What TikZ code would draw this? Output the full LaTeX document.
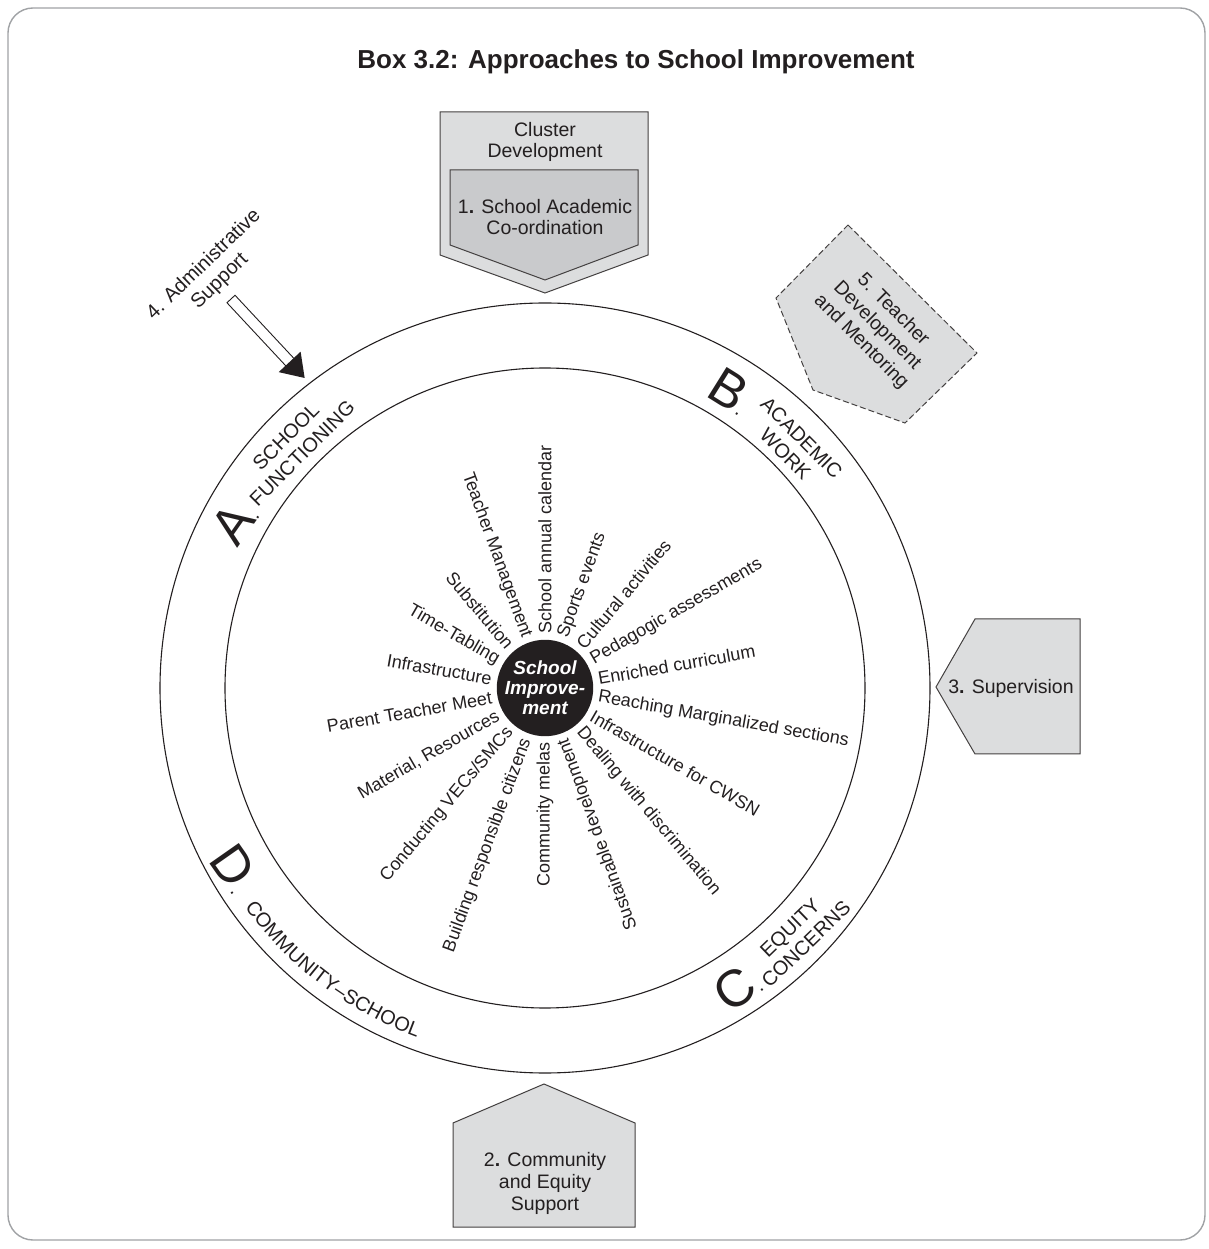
\documentclass[tikz,border=0pt]{standalone}
\usepackage{fontspec}
\setmainfont{Liberation Sans}
\usetikzlibrary{decorations.text}
\definecolor{boxgray}{HTML}{DCDDDE}
\definecolor{boxdark}{HTML}{C9CACC}
\definecolor{ink}{HTML}{231F20}
\definecolor{framegray}{HTML}{A0A2A5}
\begin{document}
\begin{tikzpicture}[x=1pt,y=1pt, line join=miter,
  spoke/.style={font=\fontsize{18}{18}\selectfont, inner sep=0pt, text=ink},
  boxtxt/.style={font=\fontsize{19.5}{21.5}\selectfont, align=center, text=ink, inner sep=0pt},
  ring/.style={draw=ink, line width=1.1pt},
  panel/.style={draw=ink!85, line width=1pt, fill=boxgray},
  biglet/.style={font=\fontsize{52}{52}\selectfont, inner sep=0pt, text=ink},
  seclbl/.style={font=\fontsize{20}{23}\selectfont, align=center, inner sep=0pt, text=ink}]
\useasboundingbox (-545,-561) rectangle (663,688);
\draw[framegray, line width=1.4pt, rounded corners=25pt] (-537,-552) rectangle (660,680);

\node[font=\fontsize{26}{26}\selectfont\bfseries, text=ink] (title) at (91,626) {Box 3.2: Approaches to School Improvement};

% rings
\draw[ring] (0,0) circle (385);
\draw[ring] (0,0) circle (320);

% core
\node[circle, fill=ink, minimum size=92pt, inner sep=0pt, align=center, text=white,
      font=\fontsize{19}{20}\selectfont\bfseries\itshape] (core) at (0,0) {School\\Improve-\\ment};

% spokes reading outward
\foreach \a/\t in {90/School annual calendar, 70/Sports events, 50/Cultural activities,
  30/Pedagogic assessments, 10/Enriched curriculum, -10/Reaching Marginalized sections,
  -30/Infrastructure for CWSN, -50/Dealing with discrimination}
  \node[spoke, anchor=west, rotate=\a] (r\a) at (\a:54) {\t};
% spokes reading inward
\foreach \a/\t in {110/Teacher Management, 130/Substitution, 150/Time-Tabling,
  170/Infrastructure, 190/Parent Teacher Meet, 210/{Material, Resources},
  230/{Conducting VECs/SMCs}, 250/Building responsible citizens, 270/Community melas,
  290/Sustainable development}
  \node[spoke, anchor=east, rotate=\a-180] (l\a) at (\a:54) {\t};

% 1. top box
\draw[panel] (-105,576) -- (103,576) -- (103,433) -- (0,395) -- (-105,433) -- cycle;
\draw[panel, fill=boxdark] (-95,518) -- (93,518) -- (93,443) -- (0,408) -- (-95,443) -- cycle;
\node[boxtxt] (cluster) at (0,546) {Cluster\\Development};
\node[boxtxt] (sac) at (0,471) {1\textbf{.} School Academic\\Co-ordination};

% 3. supervision
\draw[panel] (430,69) -- (535,69) -- (535,-66) -- (430,-66) -- (391,1) -- cycle;
\node[boxtxt] (sup) at (466,0) {3\textbf{.} Supervision};

% 2. community
\draw[panel] (-1,-396) -- (90,-435) -- (90,-539) -- (-92,-539) -- (-92,-435) -- cycle;
\node[boxtxt, font=\fontsize{19.5}{22}\selectfont] (comm) at (0,-495) {2\textbf{.} Community\\and Equity\\Support};

% 5. teacher development
\draw[panel, dash pattern=on 6pt off 3pt] (303,463) -- (432,335) -- (360,265) -- (268,298) -- (231,390) -- cycle;
\node[boxtxt, font=\fontsize{19.5}{22.5}\selectfont, rotate=-45] (tdev) at (332,362) {5. Teacher\\Development\\and Mentoring};

% 4. administrative support
\node[seclbl, rotate=44] (admin) at (-333,415) {4. Administrative\\Support};
\coordinate (admtail) at (-314,389);
\begin{scope}[shift={(admtail)}, rotate=-47]
  \draw[fill=white, draw=ink, line width=0.9pt] (0,-5.5) -- (88,-5.5) -- (88,5.5) -- (0,5.5) -- cycle;
  \fill[ink] (86,-15) -- (108,0) -- (86,15) -- cycle;
\end{scope}

% section labels
\node[biglet, rotate=55] (A) at (-311,166) {A\fontsize{20}{20}\selectfont.};
\node[seclbl, rotate=45] (At) at (-251,243) {SCHOOL\\FUNCTIONING};
\node[biglet, rotate=-32] (B) at (186,297) {B\fontsize{20}{20}\selectfont.};
\node[seclbl, rotate=-45] (Bt) at (248.5,242) {ACADEMIC\\WORK};
\node[biglet, rotate=35] (C) at (192,-299) {C\fontsize{20}{20}\selectfont.};
\node[seclbl, rotate=44] (Ct) at (253,-248) {EQUITY\\CONCERNS};
\node[biglet, rotate=-55] (D) at (-310,-180) {D\fontsize{20}{20}\selectfont.};
\path[decorate, decoration={text along path, text align=center,
   text={|\fontsize{20}{20}\selectfont\color{ink}|COMMUNITY–SCHOOL}}]
   (203:372) arc[start angle=203, end angle=263, radius=372];
\end{tikzpicture}
\end{document}
